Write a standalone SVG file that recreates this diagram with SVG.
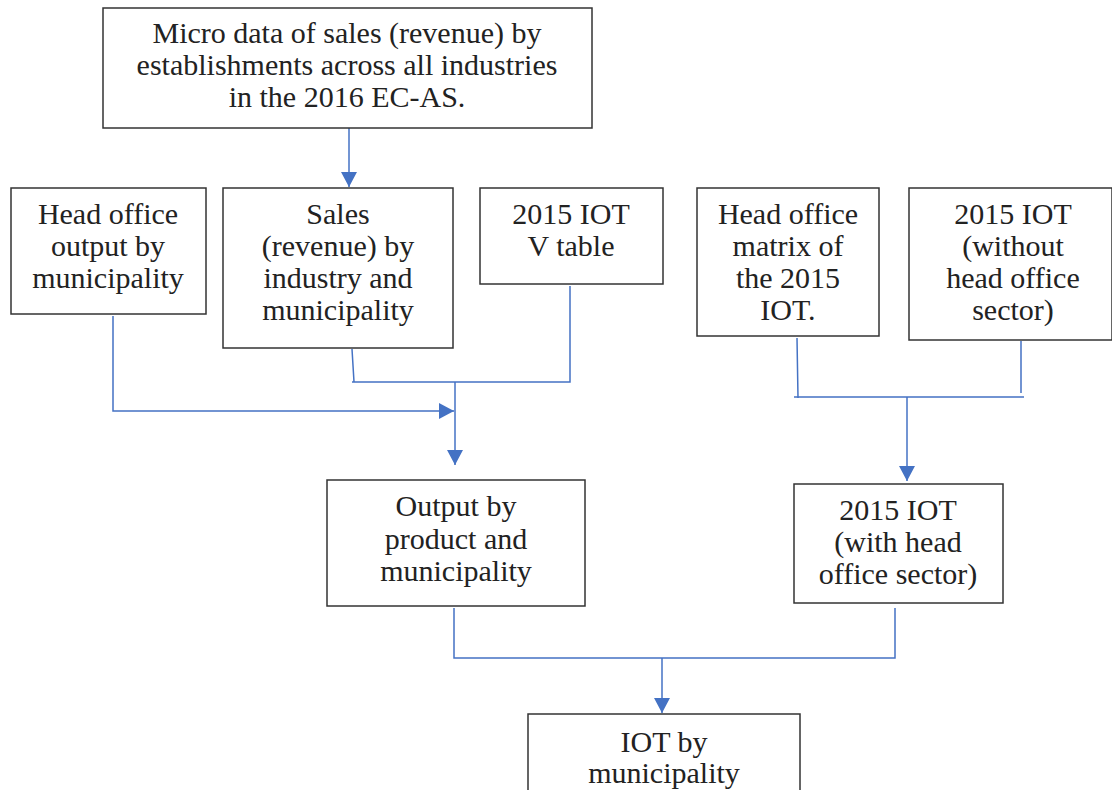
<svg xmlns="http://www.w3.org/2000/svg" width="1112" height="790" viewBox="0 0 1112 790">
<defs>
<marker id="ah" markerWidth="16" markerHeight="16" refX="15" refY="8" orient="auto" markerUnits="userSpaceOnUse" viewBox="0 0 16 16"><path d="M0,0 L15,8 L0,16 z" fill="#4472C4"/></marker>
<style>
.box{fill:#fff;stroke:#333;stroke-width:1.5}
text{font-family:"Liberation Serif",serif;font-size:30px;fill:#222;text-anchor:middle}
.c{fill:none;stroke:#4472C4;stroke-width:1.5}
</style>
</defs>
<rect width="1112" height="790" fill="#fff"/>
<g id="connectors">
<path class="c" d="M349,123 V187" marker-end="url(#ah)"/>
<path class="c" d="M113,316 V411 H454" marker-end="url(#ah)"/>
<path class="c" d="M352,349 L354,382 M352,382 H570 V286"/>
<path class="c" d="M455,382 V465" marker-end="url(#ah)"/>
<path class="c" d="M797,338 L798,398 M794,397 H1024 M1021,341 V393"/>
<path class="c" d="M907,397 V481" marker-end="url(#ah)"/>
<path class="c" d="M454,608 V658 H895 V608"/>
<path class="c" d="M662,658 V713" marker-end="url(#ah)"/>
</g>
<g id="n-micro"><rect class="box" x="103" y="8" width="489" height="120"/>
<text x="347" y="43">Micro data of sales (revenue) by</text>
<text x="347" y="75">establishments across all industries</text>
<text x="347" y="107">in the 2016 EC-AS.</text></g>
<g id="n-headout"><rect class="box" x="11" y="188" width="195" height="126"/>
<text x="108" y="224">Head office</text><text x="108" y="256">output by</text><text x="108" y="288">municipality</text></g>
<g id="n-sales"><rect class="box" x="223" y="188" width="230" height="160"/>
<text x="338" y="224">Sales</text><text x="338" y="256">(revenue) by</text><text x="338" y="288">industry and</text><text x="338" y="320">municipality</text></g>
<g id="n-vtable"><rect class="box" x="480" y="188" width="183" height="96"/>
<text x="571" y="224">2015 IOT</text><text x="571" y="256">V table</text></g>
<g id="n-homatrix"><rect class="box" x="697" y="188" width="182" height="148"/>
<text x="788" y="224">Head office</text><text x="788" y="256">matrix of</text><text x="788" y="288">the 2015</text><text x="788" y="320">IOT.</text></g>
<g id="n-without"><rect class="box" x="909" y="188" width="203" height="152"/>
<text x="1013" y="224">2015 IOT</text><text x="1013" y="256">(without</text><text x="1013" y="288">head office</text><text x="1013" y="320">sector)</text></g>
<g id="n-output"><rect class="box" x="327" y="480" width="258" height="126"/>
<text x="456" y="516">Output by</text><text x="456" y="549">product and</text><text x="456" y="581">municipality</text></g>
<g id="n-with"><rect class="box" x="794" y="484" width="209" height="119"/>
<text x="898" y="520">2015 IOT</text><text x="898" y="552">(with head</text><text x="898" y="584">office sector)</text></g>
<g id="n-iot"><rect class="box" x="528" y="714" width="272" height="90"/>
<text x="664" y="752">IOT by</text><text x="664" y="783">municipality</text></g>
</svg>
